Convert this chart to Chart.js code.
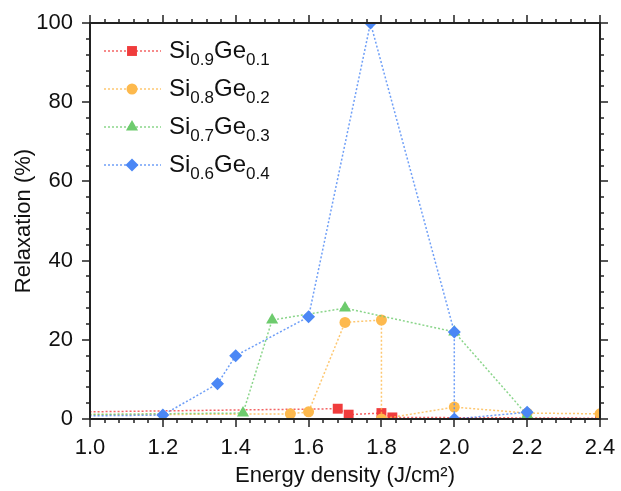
<!DOCTYPE html>
<html>
<head>
<meta charset="utf-8">
<script src="https://cdn.jsdelivr.net/npm/chart.js@4/dist/chart.umd.min.js"></script>
<style>
html,body{margin:0;padding:0;background:#fff;}
#wrap{width:621px;height:491px;position:relative;}
</style>
</head>
<body>
<div id="wrap"><canvas id="c" width="621" height="491"></canvas></div>
<script>
// ---- data ----
const seriesNames = [
  ['Si','0.9','Ge','0.1'],
  ['Si','0.8','Ge','0.2'],
  ['Si','0.7','Ge','0.3'],
  ['Si','0.6','Ge','0.4']
];
const ge01X = [0.9, 1.68, 1.71, 1.80, 1.83, 2.40];
const ge01Y = [1.7, 2.6, 1.1, 1.5, 0.4, 0.2];
const ge02X = [0.9, 1.55, 1.60, 1.70, 1.80, 1.80, 2.00, 2.20, 2.40];
const ge02Y = [1.0, 1.3, 1.8, 24.4, 25.0, 0.0, 3.0, 1.5, 1.3];
const ge03X = [0.9, 1.42, 1.50, 1.70, 2.00, 2.20];
const ge03Y = [1.1, 1.5, 25.0, 28.0, 22.0, 1.0];
const ge04X = [0.9, 1.20, 1.35, 1.40, 1.60, 1.77, 2.00, 2.00, 2.20];
const ge04Y = [0.7, 1.0, 8.9, 16.0, 25.8, 100.0, 22.0, 0.0, 1.7];
const xTicks = [1.0, 1.2, 1.4, 1.6, 1.8, 2.0, 2.2, 2.4];
const yTicks = [0, 20, 40, 60, 80, 100];
const xTitle = 'Energy density (J/cm²)';
const yTitle = 'Relaxation (%)';

// ---- styles ----
const colors = ['#F03C3C', '#FDB94D', '#6DCB6D', '#4B87F5'];
const lineColors = ['rgba(240,60,60,0.8)', 'rgba(253,185,77,0.8)', 'rgba(109,203,109,0.8)', 'rgba(75,135,245,0.8)'];
const shapes = ['rect', 'circle', 'triangle', 'rectRot'];
const radii = [7, 5.5, 7, 6.5];
const FONT = '"Liberation Sans", Arial, Helvetica, sans-serif';

const xs = [ge01X, ge02X, ge03X, ge04X];
const ys = [ge01Y, ge02Y, ge03Y, ge04Y];

const datasets = xs.map((xa, i) => ({
  label: seriesNames[i].join(''),
  data: xa.map((x, j) => ({x: x, y: ys[i][j]})),
  borderColor: lineColors[i],
  backgroundColor: colors[i],
  pointBackgroundColor: colors[i],
  pointBorderColor: colors[i],
  pointBorderWidth: 0,
  pointStyle: shapes[i],
  pointRadius: radii[i],
  borderWidth: 1.5,
  borderDash: [2, 2],
  tension: 0,
  order: 4 - i,
  clip: 0
}));

const frameTicks = {
  id: 'frameTicks',
  afterDatasetsDraw(chart) {
    const {ctx, chartArea: a, scales: {x, y}} = chart;
    ctx.save();
    ctx.strokeStyle = '#222';
    ctx.lineWidth = 2;
    ctx.strokeRect(a.left, a.top, a.right - a.left, a.bottom - a.top);
    ctx.lineWidth = 1.5;
    const xMinorStep = (xTicks[1] - xTicks[0]) / 5;
    const yMinorStep = (yTicks[1] - yTicks[0]) / 5;
    ctx.beginPath();
    for (let k = 0; ; k++) {
      const v = xTicks[0] + k * xMinorStep;
      if (v > xTicks[xTicks.length - 1] + 1e-9) break;
      const px = Math.round(x.getPixelForValue(v));
      const len = (k % 5 === 0) ? 8 : 4;
      ctx.moveTo(px, a.bottom); ctx.lineTo(px, a.bottom + len);
      ctx.moveTo(px, a.top); ctx.lineTo(px, a.top - len);
    }
    for (let k = 0; ; k++) {
      const v = yTicks[0] + k * yMinorStep;
      if (v > yTicks[yTicks.length - 1] + 1e-9) break;
      const py = Math.round(y.getPixelForValue(v));
      const len = (k % 5 === 0) ? 8 : 4;
      ctx.moveTo(a.left, py); ctx.lineTo(a.left - len, py);
      ctx.moveTo(a.right, py); ctx.lineTo(a.right + len, py);
    }
    ctx.stroke();
    ctx.restore();
  }
};

const subLegend = {
  id: 'subLegend',
  afterDraw(chart) {
    const ctx = chart.ctx;
    const x0 = 104, x1 = 161, mx = 132, tx = 169, y0 = 51, dy = 38;
    const F = 24, f = 17;
    ctx.save();
    seriesNames.forEach((parts, i) => {
      const yy = y0 + i * dy;
      ctx.save();
      ctx.strokeStyle = lineColors[i];
      ctx.lineWidth = 1.5;
      ctx.setLineDash([2, 2]);
      ctx.beginPath(); ctx.moveTo(x0, yy); ctx.lineTo(x1, yy); ctx.stroke();
      ctx.restore();
      ctx.fillStyle = colors[i];
      ctx.strokeStyle = colors[i];
      ctx.lineWidth = 0;
      Chart.helpers.drawPoint(ctx, {pointStyle: shapes[i], radius: radii[i], borderWidth: 0}, mx, yy);
      ctx.fillStyle = '#111';
      ctx.textBaseline = 'alphabetic';
      ctx.textAlign = 'left';
      let cx = tx;
      const base = yy + 7;
      parts.forEach((p, k) => {
        if (k % 2 === 0) {
          ctx.font = F + 'px ' + FONT;
          ctx.fillText(p, cx, base);
        } else {
          ctx.font = f + 'px ' + FONT;
          ctx.fillText(p, cx, base + 7);
        }
        cx += ctx.measureText(p).width;
      });
    });
    ctx.restore();
  }
};

function noPad(s) { s.paddingLeft = 0; s.paddingRight = 0; s.paddingTop = 0; s.paddingBottom = 0; }

new Chart(document.getElementById('c'), {
  type: 'line',
  data: {datasets: datasets},
  options: {
    responsive: false,
    animation: false,
    events: [],
    layout: {padding: {left: 0, right: 21, top: 23, bottom: 0}},
    plugins: {legend: {display: false}, tooltip: {enabled: false}},
    scales: {
      x: {
        type: 'linear', min: xTicks[0], max: xTicks[xTicks.length - 1],
        afterBuildTicks: s => { s.ticks = xTicks.map(v => ({value: v})); },
        afterFit: s => { s.height = 72; noPad(s); },
        grid: {display: false, drawTicks: false},
        border: {display: false},
        ticks: {padding: 16, color: '#111', font: {family: FONT, size: 22}, callback: v => Number(v).toFixed(1), maxRotation: 0, autoSkip: false},
        title: {display: true, text: xTitle, color: '#111', font: {family: FONT, size: 22}, padding: {top: 0, bottom: 2}}
      },
      y: {
        type: 'linear', min: yTicks[0], max: yTicks[yTicks.length - 1],
        afterBuildTicks: s => { s.ticks = yTicks.map(v => ({value: v})); },
        afterFit: s => { s.width = 90; noPad(s); },
        grid: {display: false, drawTicks: false},
        border: {display: false},
        ticks: {padding: 17, color: '#111', font: {family: FONT, size: 22}},
        title: {display: true, text: yTitle, color: '#111', font: {family: FONT, size: 22}, padding: {top: 11, bottom: 0}}
      }
    }
  },
  plugins: [frameTicks, subLegend]
});
</script>
</body>
</html>
